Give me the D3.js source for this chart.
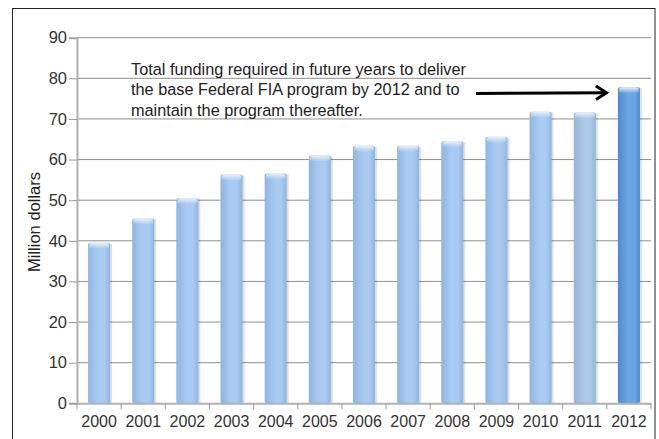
<!DOCTYPE html>
<html><head><meta charset="utf-8">
<script src="https://cdn.jsdelivr.net/npm/d3@7"></script>
<style>body{margin:0;background:#fff}svg{display:block}text{font-family:"Liberation Sans",Arial,sans-serif}</style>
</head><body>
<svg id="c" width="659" height="439"></svg>
<script>
const years = ["2000","2001","2002","2003","2004","2005","2006","2007","2008","2009","2010","2011","2012"];
const values = [39.5,45.5,50.5,56.3,56.6,61,63.4,63.4,64.5,65.6,71.8,71.6,77.8];
const yTicks = [0,10,20,30,40,50,60,70,80,90];
const note = ["Total funding required in future years to deliver","the base Federal FIA program by 2012 and to","maintain the program thereafter."];

const svg = d3.select("#c");
const m = {l:77, r:651, t:37.7, b:403.3};
const x = d3.scaleBand().domain(years).range([m.l, m.r]).paddingInner(0.5).paddingOuter(0.25);
const xb = d3.scaleBand().domain(years).range([m.l, m.r]);
const y = d3.scaleLinear().domain([0,90]).range([m.b, m.t]);

svg.append("rect").attr("x",12.5).attr("y",8.5).attr("width",642.5).attr("height",460).attr("fill","none").attr("stroke","#222").attr("stroke-width",1);

const defs = svg.append("defs");
function grad(id, edge, mid){
  const g = defs.append("linearGradient").attr("id",id).attr("x1","0").attr("x2","1").attr("y1","0").attr("y2","0");
  g.append("stop").attr("offset","0").attr("stop-color",edge);
  g.append("stop").attr("offset","0.45").attr("stop-color",mid);
  g.append("stop").attr("offset","0.75").attr("stop-color",mid);
  g.append("stop").attr("offset","1").attr("stop-color",edge);
}
grad("gA","#8fb4e0","#a9cbf2");
grad("gB","#97b4d8","#adc8e8");
grad("gC","#5389cc","#6aa6e4");
const capG = defs.append("linearGradient").attr("id","cap").attr("x1","0").attr("x2","0").attr("y1","0").attr("y2","1");
capG.append("stop").attr("offset","0").attr("stop-color","#e6f1fc");
capG.append("stop").attr("offset","1").attr("stop-color","#e6f1fc").attr("stop-opacity",0);

svg.append("g").selectAll("line").data(yTicks.filter(d=>d>0)).join("line")
  .attr("x1",m.l).attr("x2",m.r).attr("y1",d=>y(d)).attr("y2",d=>y(d))
  .attr("stroke","#8f8f8f").attr("stroke-width",1);

const bars = svg.append("g");
bars.selectAll("rect.sh").data(values).join("rect")
  .attr("x",(d,i)=>x(years[i])+2).attr("y",d=>y(d)+1).attr("width",x.bandwidth()).attr("height",d=>m.b-y(d)-1)
  .attr("fill","#000").attr("opacity",0.12);
bars.selectAll("rect.b").data(values).join("rect")
  .attr("x",(d,i)=>x(years[i])).attr("y",d=>y(d)).attr("width",x.bandwidth()).attr("height",d=>m.b-y(d))
  .attr("rx",2)
  .attr("fill",(d,i)=>i===12?"url(#gC)":(i===11?"url(#gB)":"url(#gA)"));
bars.selectAll("rect.c").data(values).join("rect")
  .attr("x",(d,i)=>x(years[i])+1).attr("y",d=>y(d)).attr("width",x.bandwidth()-2).attr("height",6)
  .attr("rx",3).attr("fill","url(#cap)");

const ya = d3.axisLeft(y).tickValues(yTicks).tickSize(8).tickPadding(2).tickFormat(d3.format("d"));
const yg = svg.append("g").attr("transform",`translate(${m.l},0)`).call(ya);
yg.select(".domain").attr("stroke","#b0b0b0").attr("stroke-width",2);
yg.selectAll(".tick line").attr("stroke","#999");
yg.selectAll(".tick text").attr("font-size",16.5).attr("fill","#333").attr("font-family","Liberation Sans, Arial, sans-serif");

const xa = d3.axisBottom(xb).tickSize(0).tickPadding(12);
const xg = svg.append("g").attr("transform",`translate(0,${m.b})`).call(xa);
xg.select(".domain").attr("stroke","#b0b0b0").attr("stroke-width",2);
xg.selectAll(".tick text").attr("font-size",16).attr("fill","#333").attr("font-family","Liberation Sans, Arial, sans-serif");
svg.append("g").selectAll("line").data(years.concat(["end"])).join("line")
  .attr("x1",(d,i)=>m.l+i*xb.step()).attr("x2",(d,i)=>m.l+i*xb.step())
  .attr("y1",m.b).attr("y2",m.b+6).attr("stroke","#999");

svg.append("text").attr("transform","translate(40,222) rotate(-90)").attr("text-anchor","middle")
  .attr("font-size",16.5).attr("fill","#222").text("Million dollars");

svg.append("g").selectAll("text").data(note).join("text")
  .attr("x",131).attr("y",(d,i)=>74.5+i*20.5).attr("font-size",16.3).attr("fill","#222").text(d=>d);

svg.append("line").attr("x1",476).attr("x2",606).attr("y1",93.5).attr("y2",92.8)
  .attr("stroke","#000").attr("stroke-width",3);
svg.append("path").attr("d","M596,86 L606.5,92.8 L596,99.5").attr("fill","none")
  .attr("stroke","#000").attr("stroke-width",3).attr("stroke-linejoin","miter");
</script>
</body></html>
